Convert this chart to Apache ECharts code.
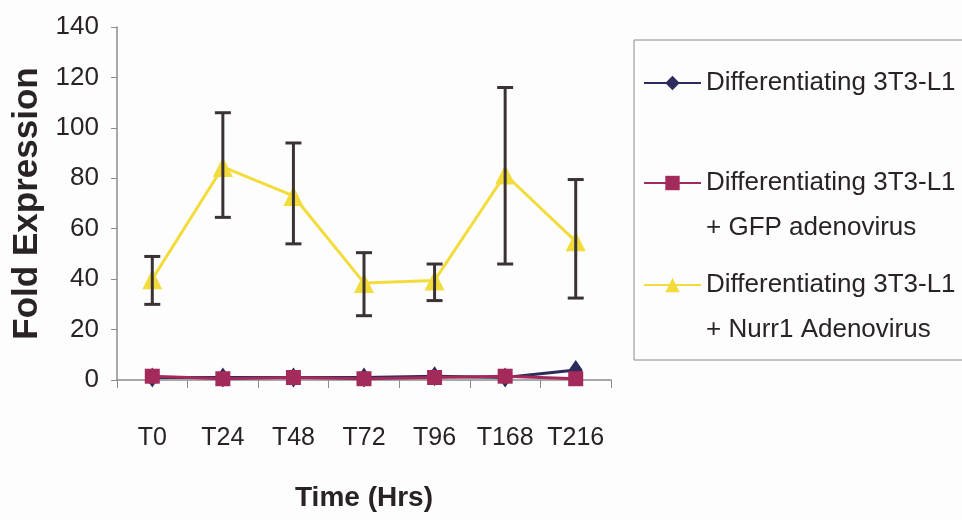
<!DOCTYPE html>
<html>
<head>
<meta charset="utf-8">
<script src="https://cdn.jsdelivr.net/npm/echarts@6/dist/echarts.min.js"></script>
<style>
  html, body { margin: 0; padding: 0; background: #fdfdfd; }
  #chart { width: 962px; height: 520px; }
</style>
</head>
<body>
<div id="chart"></div>
<script>
const categories = ["T0", "T24", "T48", "T72", "T96", "T168", "T216"];
const diffValues = [1, 1, 1, 1, 1.5, 1, 4];
const gfpValues = [1.5, 0.5, 1, 0.5, 1, 1.5, 0.5];
const nurrValues = [40, 84.5, 73, 38.5, 39.5, 81.5, 55];
const nurrLow = [30, 64.5, 54, 25.5, 31.5, 46, 32.5];
const nurrHigh = [49, 106, 94, 50.5, 46, 116, 79.5];
const yTicks = [0, 20, 40, 60, 80, 100, 120, 140];

const names = [
  "Differentiating 3T3-L1",
  "Differentiating 3T3-L1\n+ GFP adenovirus",
  "Differentiating 3T3-L1\n+ Nurr1 Adenovirus"
];
const colors = ["#2d2b5c", "#a52a5c", "#f2dc3c"];
const font = "'Liberation Sans', Arial, sans-serif";
const textColor = "#2a2325";

let chart = echarts.init(document.getElementById("chart"));

let errorData = categories.map(function (c, i) {
  return [i, nurrLow[i], nurrHigh[i]];
});

// one legend per entry so the icon sits on the first text line
function makeLegend(name, top) {
  return {
    orient: "vertical",
    left: 643,
    top: top,
    padding: 0,
    itemWidth: 57,
    itemHeight: 18,
    data: [name],
    formatter: function (n) {
      return n.indexOf("\n") >= 0 ? " \n" + n : n;
    },
    textStyle: {
      fontFamily: font,
      fontSize: 26,
      color: textColor,
      lineHeight: 45,
    },
  };
}

let option = {
  animation: false,
  backgroundColor: "#fdfdfd",
  grid: {
    left: 117,
    top: 27,
    width: 494,
    height: 353,
  },
  graphic: [
    {
      type: "rect",
      shape: { x: 634, y: 40, width: 340, height: 320 },
      style: { fill: "none", stroke: "#8a8a8a", lineWidth: 1 },
    },
  ],
  legend: [
    makeLegend(names[0], 83 - 22.5),
    makeLegend(names[1], 183 - 67.5),
    makeLegend(names[2], 285 - 67.5),
  ],
  xAxis: {
    type: "category",
    data: categories,
    boundaryGap: true,
    name: "Time (Hrs)",
    nameLocation: "middle",
    nameGap: 104,
    nameTextStyle: {
      fontFamily: font,
      fontWeight: "bold",
      fontSize: 28,
      color: textColor,
    },
    axisLine: { lineStyle: { color: "#8c8c8c", width: 1.5 } },
    axisTick: { show: true, length: 8, lineStyle: { color: "#8c8c8c" } },
    axisLabel: {
      interval: 0,
      fontFamily: font,
      fontSize: 25,
      color: textColor,
      margin: 46,
    },
  },
  yAxis: {
    type: "value",
    min: 0,
    max: 140,
    interval: 20,
    name: "Fold Expression",
    nameLocation: "middle",
    nameGap: 68,
    nameTextStyle: {
      fontFamily: font,
      fontWeight: "bold",
      fontSize: 35,
      color: textColor,
    },
    axisLine: { show: true, lineStyle: { color: "#8c8c8c", width: 1.5 } },
    axisTick: { show: true, length: 6, lineStyle: { color: "#8c8c8c" } },
    splitLine: { show: false },
    axisLabel: {
      fontFamily: font,
      fontSize: 26,
      color: textColor,
      margin: 18,
      formatter: function (v) {
        return yTicks.indexOf(v) >= 0 ? String(v) : "";
      },
    },
  },
  series: [
    {
      name: names[2],
      type: "line",
      data: nurrValues,
      symbol: "triangle",
      symbolSize: 20,
      itemStyle: { color: colors[2] },
      lineStyle: { color: colors[2], width: 3 },
      z: 3,
    },
    {
      name: "errors",
      type: "custom",
      data: errorData,
      z: 4,
      renderItem: function (params, api) {
        let x = api.value(0);
        let lo = api.coord([x, api.value(1)]);
        let hi = api.coord([x, api.value(2)]);
        let half = 8;
        let st = { stroke: "#3b3236", lineWidth: 3 };
        return {
          type: "group",
          children: [
            { type: "line", shape: { x1: lo[0], y1: lo[1], x2: hi[0], y2: hi[1] }, style: st },
            { type: "line", shape: { x1: lo[0] - half, y1: lo[1], x2: lo[0] + half, y2: lo[1] }, style: st },
            { type: "line", shape: { x1: hi[0] - half, y1: hi[1], x2: hi[0] + half, y2: hi[1] }, style: st },
          ],
        };
      },
    },
    {
      name: names[0],
      type: "line",
      data: diffValues,
      symbol: "diamond",
      symbolSize: [14, 20],
      itemStyle: { color: colors[0] },
      lineStyle: { color: colors[0], width: 3 },
      z: 5,
    },
    {
      name: names[1],
      type: "line",
      data: gfpValues,
      symbol: "rect",
      symbolSize: 15,
      itemStyle: { color: colors[1] },
      lineStyle: { color: colors[1], width: 3 },
      z: 6,
    },
  ],
};

option && chart.setOption(option);
</script>
</body>
</html>
